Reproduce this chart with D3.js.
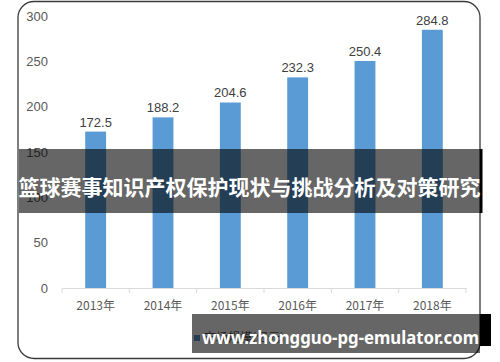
<!DOCTYPE html>
<html>
<head>
<meta charset="utf-8">
<script src="https://cdn.jsdelivr.net/npm/d3@7"></script>
<style>
  body { margin: 0; background: #fff; }
  svg { display: block; }
  .tick text { fill: #595959; }
</style>
</head>
<body>
<svg width="500" height="362"></svg>
<script>
const years = ["2013年", "2014年", "2015年", "2016年", "2017年", "2018年"];
const values = [172.5, 188.2, 204.6, 232.3, 250.4, 284.8];
const yTicks = [0, 50, 100, 150, 200, 250, 300];
const title = "篮球赛事知识产权保护现状与挑战分析及对策研究";
const site = "www.zhongguo-pg-emulator.com";
const legendLabel = "市场规模(亿元)";

const svg = d3.select("svg");
const plot = {left: 62, right: 466, top: 16, bottom: 288};

// outer frame with rounded corners
svg.append("rect")
  .attr("x", 18).attr("y", 1.5)
  .attr("width", 462).attr("height", 357)
  .attr("rx", 16)
  .attr("fill", "#fff")
  .attr("stroke", "#3a3a3a")
  .attr("stroke-width", 1.3);

const x = d3.scaleBand()
  .domain(years)
  .range([plot.left, plot.right])
  .paddingInner(0.69)
  .paddingOuter(0.345);

const y = d3.scaleLinear()
  .domain([0, 300])
  .range([plot.bottom, plot.top]);

// y axis labels only
const yAxis = svg.append("g")
  .attr("transform", `translate(${plot.left},0)`)
  .call(d3.axisLeft(y).tickValues(yTicks).tickSize(0).tickPadding(14));
yAxis.select(".domain").remove();
yAxis.selectAll("text")
  .attr("font-family", "'Liberation Sans', Arial, sans-serif")
  .attr("font-size", 13);

// bars
svg.append("g").selectAll("rect")
  .data(values)
  .join("rect")
  .attr("x", (d, i) => x(years[i]))
  .attr("y", d => y(d))
  .attr("width", x.bandwidth())
  .attr("height", d => y(0) - y(d))
  .attr("fill", "#5b9bd5");

// value labels
svg.append("g").selectAll("text")
  .data(values)
  .join("text")
  .attr("x", (d, i) => x(years[i]) + x.bandwidth() / 2)
  .attr("y", d => y(d) - 5)
  .attr("text-anchor", "middle")
  .attr("font-family", "'Liberation Sans', Arial, sans-serif")
  .attr("font-size", 13)
  .attr("fill", "#404040")
  .text(d => d.toFixed(1));

// x axis with tick marks between categories
const xAxis = svg.append("g")
  .attr("transform", `translate(0,${plot.bottom})`)
  .call(d3.axisBottom(x).tickSize(0).tickPadding(13));
xAxis.select(".domain").attr("stroke", "#d9d9d9");
xAxis.selectAll("text")
  .attr("font-family", "'Noto Sans CJK SC', sans-serif")
  .attr("font-size", 12);
const step = x.step();
xAxis.selectAll(".sep")
  .data(d3.range(years.length + 1))
  .join("line")
  .attr("class", "sep")
  .attr("x1", i => plot.left + i * step)
  .attr("x2", i => plot.left + i * step)
  .attr("y1", 0).attr("y2", 5)
  .attr("stroke", "#d9d9d9");

// legend (mostly hidden under the watermark)
svg.append("rect")
  .attr("x", 194).attr("y", 335).attr("width", 6).attr("height", 6)
  .attr("fill", "#5b9bd5");
svg.append("text")
  .attr("x", 204).attr("y", 342)
  .attr("font-family", "'Noto Sans CJK SC', sans-serif")
  .attr("font-size", 12)
  .attr("fill", "#595959")
  .text(legendLabel);

// title banner overlay
svg.append("rect")
  .attr("x", 480).attr("y", 149).attr("width", 2.5).attr("height", 64)
  .attr("fill", "#000");
svg.append("rect")
  .attr("x", 19).attr("y", 149).attr("width", 461).attr("height", 64)
  .attr("fill", "rgba(0,0,0,0.6)");
svg.append("text")
  .attr("x", 249.5).attr("y", 186)
  .attr("text-anchor", "middle")
  .attr("dominant-baseline", "central")
  .attr("font-family", "'Noto Sans CJK SC', sans-serif")
  .attr("font-weight", "bold")
  .attr("font-size", 21)
  .attr("fill", "#fff")
  .text(title);

// site banner overlay
svg.append("rect")
  .attr("x", 480).attr("y", 314).attr("width", 11).attr("height", 32)
  .attr("fill", "#000");
svg.append("rect")
  .attr("x", 192).attr("y", 314).attr("width", 288).attr("height", 39)
  .attr("fill", "rgba(0,0,0,0.6)");
svg.append("text")
  .attr("x", 202).attr("y", 337)
  .attr("dominant-baseline", "central")
  .attr("font-family", "'Noto Sans', sans-serif")
  .attr("font-weight", "bold")
  .attr("font-size", 17)
  .attr("textLength", 277)
  .attr("lengthAdjust", "spacingAndGlyphs")
  .attr("fill", "#fff")
  .text(site);
</script>
</body>
</html>
